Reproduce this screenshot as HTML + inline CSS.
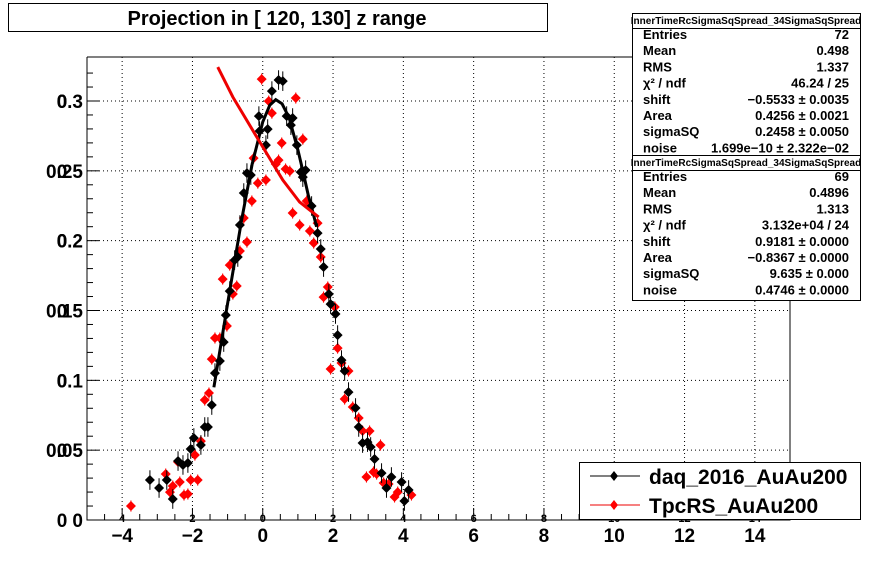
<!DOCTYPE html>
<html><head><meta charset="utf-8"><style>
body{margin:0;background:#fff;}
svg{display:block;font-family:"Liberation Sans",sans-serif;}
</style></head><body>
<svg id="c" width="878" height="578" xmlns="http://www.w3.org/2000/svg">
<rect width="878" height="578" fill="#fff"/>
<g>
<rect x="8.5" y="3.5" width="539" height="28" fill="#fff" stroke="#000"/>
<text x="277" y="25" text-anchor="middle" font-size="20" font-weight="bold">Projection in [ 120, 130] z range</text>
</g>
<g id="grid"></g>
<g id="axes"></g>
<g id="marks"></g>
<g id="stats"></g>
<g>
<rect x="579.5" y="462.5" width="281" height="57" fill="#fff" stroke="#000"/>
<line x1="590" y1="476" x2="640" y2="476" stroke="#000"/>
<path d="M614 471 L618 476 L614 481 L610 476Z" fill="#000"/>
<text x="649" y="484" font-size="21" font-weight="bold">daq_2016_AuAu200</text>
<line x1="590" y1="505" x2="640" y2="505" stroke="#e00"/>
<path d="M614 500 L618 505 L614 510 L610 505Z" fill="#f00"/>
<text x="649" y="513" font-size="21" font-weight="bold">TpcRS_AuAu200</text>
</g>
</svg>
<script>
const blackX=[-3.21,-2.95,-2.73,-2.56,-2.41,-2.27,-2.13,-2.05,-1.96,-1.76,-1.65,-1.56,-1.45,-1.36,-1.22,-1.11,-1.05,-0.94,-0.80,-0.71,-0.65,-0.54,-0.45,-0.34,-0.11,-0.09,0.09,0.14,0.26,0.45,0.57,0.68,0.85,0.80,0.97,1.08,1.22,1.14,1.39,1.56,1.65,1.73,1.88,1.93,2.07,2.13,2.24,2.33,2.44,2.64,2.73,2.84,2.98,3.07,3.18,3.38,3.52,3.66,3.95,4.15,4.03];
const blackY=[0.0286,0.0229,0.0286,0.0150,0.0422,0.0394,0.0408,0.0508,0.0587,0.0537,0.0666,0.0666,0.0823,0.1052,0.1138,0.1274,0.1467,0.1639,0.1861,0.1883,0.2112,0.2341,0.2484,0.2470,0.2892,0.2785,0.2684,0.2799,0.3071,0.3150,0.3142,0.2892,0.2878,0.2827,0.2684,0.2491,0.2505,0.2455,0.2248,0.2054,0.1940,0.1811,0.1618,0.1546,0.1475,0.1324,0.1145,0.1067,0.0916,0.0802,0.0666,0.0551,0.0558,0.0523,0.0437,0.0336,0.0229,0.0308,0.0272,0.0215,0.0136];
const redX=[-3.75,-2.76,-2.64,-2.56,-2.41,-2.36,-2.24,-2.13,-2.05,-1.93,-1.85,-1.76,-1.65,-1.53,-1.45,-1.36,-1.22,-1.02,-1.14,-0.94,-0.85,-0.74,-0.65,-0.45,-0.54,-0.31,-0.26,-0.14,0.09,-0.03,0.17,0.26,0.45,0.37,0.54,0.65,0.77,0.85,0.94,1.14,1.05,1.34,1.25,1.56,1.45,1.65,1.85,1.73,2.05,2.13,2.24,1.93,2.44,2.33,2.56,2.73,2.84,3.04,3.35,2.95,3.15,3.24,3.44,3.58,3.84,3.75,4.23];
const redY=[0.0100,0.0329,0.0200,0.0243,0.0415,0.0272,0.0179,0.0186,0.0286,0.0465,0.0286,0.0565,0.0859,0.0909,0.1152,0.1303,0.1303,0.1389,0.1725,0.1825,0.1618,0.1675,0.1926,0.1990,0.2162,0.2284,0.2591,0.2412,0.2434,0.3157,0.2999,0.2913,0.2577,0.2548,0.2699,0.2513,0.2498,0.2198,0.3021,0.2727,0.2112,0.2069,0.2284,0.2126,0.1983,0.1883,0.1668,0.1596,0.1525,0.1231,0.1124,0.1081,0.1067,0.0866,0.0809,0.0730,0.0637,0.0637,0.0537,0.0308,0.0344,0.0329,0.0265,0.0258,0.0200,0.0165,0.0179];
const blackErr=0.007, redErr=0.004;
const blackFitX=[-1.39,-1.0,-0.6,-0.3,0,0.2,0.37,0.55,0.75,1.0,1.14,1.3,1.39,1.53];
const blackFitY=[0.095,0.155,0.215,0.255,0.285,0.297,0.301,0.298,0.288,0.265,0.25,0.232,0.224,0.21];
const redFitX=[-1.28,-0.85,-0.17,0.57,1.05,1.59];
const redFitY=[0.3243,0.3028,0.2742,0.2434,0.2276,0.2169];
const xTicks=[-4,-2,0,2,4,6,8,10,12,14];
const yTicks=[0,0.05,0.1,0.15,0.2,0.25,0.3];
const yTickLabels=["0","0.05","0.1","0.15","0.2","0.25","0.3"];

const L=87,R=790,T=57,B=520,XMIN=-5,XMAX=15,YMIN=0,YMAX=0.3315;
const sx=v=>L+(v-XMIN)/(XMAX-XMIN)*(R-L);
const sy=v=>B-(v-YMIN)/(YMAX-YMIN)*(B-T);
const NS="http://www.w3.org/2000/svg";
function mk(tag,attrs,parent){const e=document.createElementNS(NS,tag);for(const k in attrs)e.setAttribute(k,attrs[k]);parent.appendChild(e);return e;}
const grid=document.getElementById('grid'),axes=document.getElementById('axes'),marks=document.getElementById('marks'),stats=document.getElementById('stats');

xTicks.forEach((t,i)=>{
  const g=mk('line',{x1:sx(t),x2:sx(t),y1:T,y2:B,stroke:'#000','stroke-dasharray':'1,3'},grid);
  
  
  const lb=mk('text',{x:sx(t),y:542,'text-anchor':'middle','font-size':19,'font-weight':'bold'},axes);
  
  
  lb.textContent=(t<0?'\u2212'+(-t):String(t));
  const sm=mk('text',{x:sx(t),y:522,'text-anchor':'middle','font-size':11,'font-weight':'bold'},axes);
  
  
  sm.textContent=String(Math.abs(t));
});
yTicks.forEach((t,i)=>{
  if(t>0){const g=mk('line',{x1:L,x2:R,y1:sy(t),y2:sy(t),stroke:'#000','stroke-dasharray':'1,3'},grid);
  
  }
  const lb=mk('text',{x:83,y:sy(t)+7,'text-anchor':'end','font-size':19,'font-weight':'bold'},axes);
  
  
  lb.textContent=yTickLabels[i];
  const sm=mk('text',{x:62,y:sy(t)+7,'text-anchor':'middle','font-size':19,'font-weight':'bold'},axes);
  
  
  sm.textContent='0';
});
let fr=mk('path',{d:`M${L} ${T} H632 M${L} ${T} V${B} H${R} V300`,fill:'none',stroke:'#000'},axes);


for(let v=-5;v<=15.001;v+=0.5){
  const maj=Math.abs(v-Math.round(v/2)*2)<1e-6;
  const tk=mk('line',{x1:sx(v),x2:sx(v),y1:B,y2:B-(maj?12:6),stroke:'#000'},axes);
  
  
}
for(let v=0;v<=0.33;v+=0.01){
  const maj=Math.abs(v/0.05-Math.round(v/0.05))<1e-6;
  const tk=mk('line',{x1:L,x2:L+(maj?12:6),y1:sy(v),y2:sy(v),stroke:'#000'},axes);
  
  
}
function series(xs,ys,err,col,name){
  xs.forEach((x,i)=>{
    const px=sx(x),py=sy(ys[i]);
    const e=mk('line',{x1:px,x2:px,y1:sy(ys[i]+err),y2:sy(ys[i]-err),stroke:col,'stroke-width':1},marks);
    
    
    const d=mk('path',{d:`M${px} ${py-5} L${px+5} ${py} L${px} ${py+5} L${px-5} ${py}Z`,fill:col},marks);
    
    
  });
}
function fit(xs,ys,col,name){
  const p=mk('polyline',{points:xs.map((x,i)=>sx(x)+','+sy(ys[i])).join(' '),fill:'none',stroke:col,'stroke-width':3},marks);
  
  
}
series(redX,redY,redErr,'#f00','tpcrs');
series(blackX,blackY,blackErr,'#000','daq');
fit(blackFitX,blackFitY,'#000','daq-fit-line');
fit(redFitX,redFitY,'#e00','tpcrs-fit-line');

const box1=[["Entries","72"],["Mean","0.498"],["RMS","1.337"],["χ² / ndf","46.24 / 25"],["shift","−0.5533 ± 0.0035"],["Area","0.4256 ± 0.0021"],["sigmaSQ","0.2458 ± 0.0050"],["noise","1.699e−10 ± 2.322e−02"]];
const box2=[["Entries","69"],["Mean","0.4896"],["RMS","1.313"],["χ² / ndf","3.132e+04 / 24"],["shift","0.9181 ± 0.0000"],["Area","−0.8367 ± 0.0000"],["sigmaSQ","9.635 ± 0.000"],["noise","0.4746 ± 0.0000"]];
function statBox(y0,y1,rows,name){
  const r=mk('rect',{x:632.5,y:y0+0.5,width:228,height:y1-y0,fill:'#fff',stroke:'#000'},stats);
  
  
  mk('line',{x1:632,x2:861,y1:y0+15.5,y2:y0+15.5,stroke:'#000'},stats);
  const t=mk('text',{x:746,y:y0+11,'text-anchor':'middle','font-size':10,'font-weight':'bold'},stats);
  
  
  t.textContent='InnerTimeRcSigmaSqSpread_34SigmaSqSpread';
  rows.forEach((rw,i)=>{
    const y=y0+26+i*16.2;
    const a=mk('text',{x:643,y:y,'font-size':13,'font-weight':'bold'},stats);
    
    
    a.textContent=rw[0];
    const b=mk('text',{x:849,y:y,'text-anchor':'end','font-size':13,'font-weight':'bold'},stats);
    
    
    b.textContent=rw[1];
  });
}
statBox(13,155,box1,'stats-box-daq');
statBox(155,300,box2,'stats-box-tpcrs');
</script>
</body></html>
